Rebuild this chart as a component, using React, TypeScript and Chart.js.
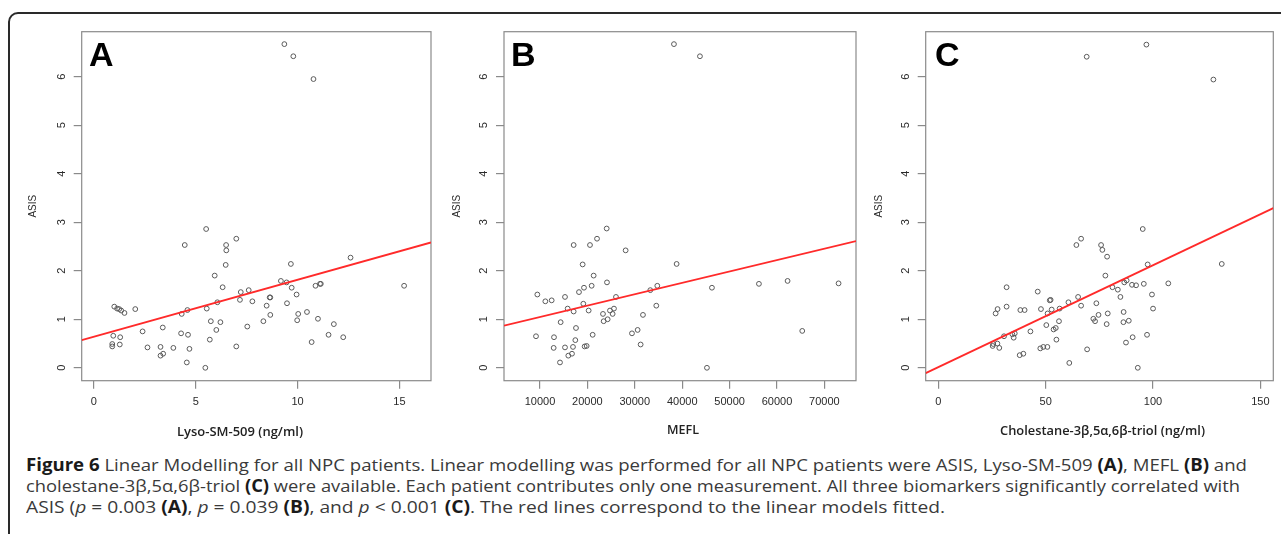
import React, { useEffect, useLayoutEffect, useRef } from 'react';
import { Chart, registerables } from 'chart.js';

Chart.register(...registerables);

// ---------- Data ----------
const Y_TICKS = [0, 1, 2, 3, 4, 5, 6];
const Y_RANGE = [-0.266, 6.926];
const Y_TITLE = 'ASIS';

// Panel A: Lyso-SM-509
const A_X = [1.0, 1.14, 1.24, 1.34, 1.5, 0.95, 0.9, 0.9, 1.29, 1.27, 2.03, 2.39, 2.63, 3.27, 3.27, 3.4, 3.38, 3.9, 4.28, 4.31, 4.59, 4.62, 4.69, 4.56, 5.47, 5.54, 5.69, 5.74, 5.93, 6.01, 6.06, 6.21, 6.32, 6.47, 4.46, 5.51, 6.49, 6.5, 6.99, 9.67, 12.6, 9.35, 9.79, 10.78, 6.99, 7.53, 7.17, 7.21, 7.6, 7.78, 8.32, 8.48, 8.63, 8.66, 8.66, 9.18, 9.46, 9.48, 9.71, 9.95, 9.98, 10.03, 10.46, 10.69, 10.88, 11.1, 11.14, 11.0, 11.52, 11.78, 12.24, 15.23];
const A_Y = [1.26, 1.22, 1.21, 1.18, 1.13, 0.66, 0.49, 0.44, 0.63, 0.48, 1.21, 0.75, 0.42, 0.43, 0.25, 0.29, 0.83, 0.41, 0.71, 1.11, 1.19, 0.68, 0.39, 0.11, 0.0, 1.22, 0.58, 0.96, 1.9, 0.78, 1.35, 0.94, 1.66, 2.12, 2.53, 2.86, 2.53, 2.42, 2.66, 2.14, 2.27, 6.67, 6.42, 5.95, 0.44, 0.85, 1.4, 1.56, 1.6, 1.37, 0.96, 1.28, 1.45, 1.45, 1.09, 1.79, 1.76, 1.33, 1.65, 1.51, 0.98, 1.11, 1.15, 0.53, 1.69, 1.73, 1.73, 1.01, 0.68, 0.9, 0.63, 1.69];
const A_FIT = [0.64, 0.1174]; // intercept, slope
const A_XTICKS = [0, 5, 10, 15];
const A_XRANGE = [-0.6, 16.55];
const A_XTITLE = 'Lyso-SM-509 (ng/ml)';

// Panel B: MEFL
const B_X = [9156, 9437, 11125, 12461, 12953, 12883, 14218, 14359, 15273, 15273, 15835, 15976, 16749, 16960, 17100, 17452, 17592, 18225, 18998, 19139, 19280, 19420, 19842, 20264, 20897, 21108, 21319, 23287, 23428, 24131, 24271, 24763, 25325, 25607, 26028, 28067, 29403, 30598, 31231, 31723, 33269, 34535, 34746, 38823, 45220, 46275, 56187, 62233, 65326, 72989, 17100, 20545, 22030, 24070, 38261, 43744];
const B_Y = [0.65, 1.51, 1.37, 1.39, 0.63, 0.41, 0.11, 0.94, 1.46, 0.42, 1.22, 0.25, 0.29, 0.43, 1.16, 0.57, 0.82, 1.56, 2.13, 1.32, 1.65, 0.44, 0.45, 1.18, 1.69, 0.68, 1.9, 1.11, 0.96, 1.76, 1.0, 1.18, 1.11, 1.22, 1.46, 2.42, 0.71, 0.78, 0.48, 1.09, 1.6, 1.28, 1.69, 2.14, 0.0, 1.65, 1.73, 1.79, 0.76, 1.74, 2.53, 2.53, 2.66, 2.87, 6.67, 6.42];
const B_FIT = [0.81, 0.00002347];
const B_XTICKS = [10000, 20000, 30000, 40000, 50000, 60000, 70000];
const B_XRANGE = [2405, 76667];
const B_XTITLE = 'MEFL';

// Panel C: Cholestane-3β,5α,6β-triol
const C_X = [25.3, 25.6, 26.7, 27.6, 27.5, 28.4, 30.6, 31.8, 31.8, 34.5, 35.1, 35.6, 37.9, 38.2, 39.6, 40.2, 42.9, 46.3, 47.5, 47.8, 48.9, 50.3, 50.8, 50.9, 51.9, 52.3, 52.8, 53.7, 54.7, 55.0, 56.2, 56.5, 60.6, 61.0, 65.1, 66.5, 69.3, 72.2, 73.0, 73.6, 74.6, 77.8, 78.4, 78.9, 78.6, 81.1, 83.6, 84.8, 86.2, 86.3, 86.6, 87.7, 87.4, 88.7, 90.2, 92.1, 90.5, 92.9, 95.7, 97.2, 97.5, 99.5, 100.0, 107.1, 132.0, 64.3, 66.5, 75.8, 76.4, 95.2, 69.1, 96.9, 128.1];
const C_Y = [0.45, 0.49, 1.12, 1.21, 0.5, 0.41, 0.65, 1.66, 1.26, 0.69, 0.62, 0.71, 0.26, 1.19, 0.29, 1.19, 0.75, 1.57, 0.4, 1.21, 0.43, 0.88, 0.43, 1.12, 1.39, 1.4, 1.2, 0.79, 0.82, 0.58, 0.96, 1.22, 1.35, 0.1, 1.46, 1.28, 0.38, 1.01, 0.96, 1.33, 1.09, 1.9, 0.9, 1.12, 2.29, 1.66, 1.61, 1.46, 0.94, 1.15, 1.76, 1.8, 0.52, 0.97, 1.71, 1.7, 0.63, 0.0, 1.73, 0.68, 2.13, 1.51, 1.22, 1.74, 2.14, 2.53, 2.66, 2.53, 2.43, 2.86, 6.41, 6.66, 5.94];
const C_FIT = [0.014, 0.021];
const C_XTICKS = [0, 50, 100, 150];
const C_XRANGE = [-5.87, 156.0];
const C_XTITLE = 'Cholestane-3β,5α,6β-triol (ng/ml)';

const PANEL_LETTERS = ['A', 'B', 'C'];

// ---------- Styling ----------
const AXIS_GRAY = '#8a8a8a';
const TICK_FONT = { family: '"Liberation Sans", Arial, sans-serif', size: 11 };
const CAPTION_FONT = '"Open Sans", "Noto Sans", sans-serif';

const boxPlugin = {
  id: 'plotBox',
  beforeDatasetsDraw(chart: any) {
    const { ctx, chartArea: a } = chart;
    ctx.save();
    ctx.strokeStyle = AXIS_GRAY;
    ctx.lineWidth = 1.2;
    ctx.strokeRect(a.left, a.top, a.right - a.left, a.bottom - a.top);
    ctx.restore();
  },
};

type Geom = { left: number; top: number; w: number; h: number; yW: number; padTop: number; padRight: number; xH: number };

function Panel({ xs, ys, fit, xTicks, xRange, geom }: { xs: number[]; ys: number[]; fit: number[]; xTicks: number[]; xRange: number[]; geom: Geom }) {
  const ref = useRef<HTMLCanvasElement>(null);
  useEffect(() => {
    const pts = xs.map((x, i) => ({ x, y: ys[i] }));
    const line = [
      { x: xRange[0], y: fit[0] + fit[1] * xRange[0] },
      { x: xRange[1], y: fit[0] + fit[1] * xRange[1] },
    ];
    const zeroPad = (s: any) => {
      s.paddingLeft = 0;
      s.paddingRight = 0;
      s.paddingTop = 0;
      s.paddingBottom = 0;
    };
    const chart = new Chart(ref.current as HTMLCanvasElement, {
      type: 'scatter',
      data: {
        datasets: [
          {
            data: line,
            showLine: true,
            borderColor: '#ff2a2a',
            backgroundColor: '#ff2a2a',
            borderWidth: 1.8,
            pointRadius: 0,
          },
          {
            data: pts,
            showLine: false,
            pointRadius: 2.4,
            pointBorderWidth: 1,
            borderColor: '#5a5a5a',
            backgroundColor: 'rgba(0,0,0,0)',
            pointBorderColor: '#5a5a5a',
            pointBackgroundColor: 'rgba(0,0,0,0)',
          },
        ],
      },
      options: {
        animation: false,
        responsive: false,
        maintainAspectRatio: false,
        events: [],
        layout: { padding: { left: 0, top: geom.padTop, right: geom.padRight, bottom: 0 } },
        plugins: { legend: { display: false }, tooltip: { enabled: false } },
        scales: {
          x: {
            type: 'linear',
            min: xRange[0],
            max: xRange[1],
            afterBuildTicks: (s: any) => {
              s.ticks = xTicks.map((v) => ({ value: v }));
            },
            afterFit: (s: any) => {
              s.height = geom.xH;
              zeroPad(s);
            },
            ticks: {
              autoSkip: false,
              maxRotation: 0,
              minRotation: 0,
              padding: 7,
              color: '#2a2a2a',
              font: TICK_FONT,
              callback: (v: any) => String(v),
            },
            grid: { drawOnChartArea: false, drawTicks: true, tickLength: 8, color: AXIS_GRAY, lineWidth: 1.2 },
            border: { display: false },
          },
          y: {
            type: 'linear',
            min: Y_RANGE[0],
            max: Y_RANGE[1],
            afterBuildTicks: (s: any) => {
              s.ticks = Y_TICKS.map((v) => ({ value: v }));
            },
            afterFit: (s: any) => {
              s.width = geom.yW;
              zeroPad(s);
            },
            ticks: {
              autoSkip: false,
              minRotation: 90,
              maxRotation: 90,
              crossAlign: 'center',
              padding: 9,
              color: '#2a2a2a',
              font: TICK_FONT,
              callback: (v: any) => String(v),
            },
            grid: { drawOnChartArea: false, drawTicks: true, tickLength: 8, color: AXIS_GRAY, lineWidth: 1.2 },
            border: { display: false },
            title: {
              display: true,
              text: Y_TITLE,
              color: '#2a2a2a',
              font: { family: '"Liberation Sans", Arial, sans-serif', size: 10 },
              padding: { top: 7, bottom: 0 },
            },
          },
        },
      } as any,
      plugins: [boxPlugin],
    });
    return () => chart.destroy();
  }, []);
  return (
    <canvas
      ref={ref}
      width={geom.w}
      height={geom.h}
      style={{ position: 'absolute', left: geom.left, top: geom.top, width: geom.w, height: geom.h }}
    />
  );
}

function FitText({ x, y, w, center, style, children }: { x: number; y: number; w: number; center?: boolean; style?: any; children: any }) {
  const ref = useRef<HTMLSpanElement>(null);
  useLayoutEffect(() => {
    const el = ref.current as HTMLSpanElement;
    const apply = () => {
      el.style.transform = 'none';
      const nat = el.getBoundingClientRect().width;
      if (nat > 0) el.style.transform = `scaleX(${w / nat})`;
    };
    apply();
    const fonts: any = (document as any).fonts;
    if (fonts && fonts.ready) fonts.ready.then(apply);
  }, [w]);
  return (
    <span
      ref={ref}
      style={{
        position: 'absolute',
        left: center ? x - w / 2 : x,
        top: y,
        whiteSpace: 'nowrap',
        display: 'inline-block',
        transformOrigin: 'left top',
        ...style,
      }}
    >
      {children}
    </span>
  );
}

const GEOMS: Geom[] = [
  { left: 20, top: 20, w: 425, h: 430, yW: 61.7, padTop: 11.7, padRight: 14, xH: 69.3 },
  { left: 444, top: 20, w: 426, h: 430, yW: 60, padTop: 11.7, padRight: 14, xH: 69.3 },
  { left: 866, top: 20, w: 415, h: 430, yW: 59.7, padTop: 11.7, padRight: 7.7, xH: 69.3 },
];

const LETTER_POS = [
  { left: 89, top: 37.2 },
  { left: 511, top: 37.2 },
  { left: 935, top: 37.2 },
];

export default function App() {
  const xTitleStyle = { fontFamily: CAPTION_FONT, fontWeight: 600, fontSize: '12.5px', lineHeight: '16px', color: '#222' };
  const capStyle = { fontFamily: CAPTION_FONT, fontSize: '17px', lineHeight: '21px', color: '#3a3a3a' };
  const B = ({ children }: any) => <b style={{ fontWeight: 700, color: '#1a1a1a' }}>{children}</b>;
  return (
    <div style={{ position: 'absolute', left: 0, top: 0, width: 1281, height: 534, overflow: 'hidden', background: '#fff' }}>
      <div
        style={{
          position: 'absolute',
          left: 8,
          top: 12,
          width: 1400,
          height: 700,
          border: '2px solid #2a2a2a',
          borderRadius: 10,
          boxSizing: 'border-box',
        }}
      />
      <Panel xs={A_X} ys={A_Y} fit={A_FIT} xTicks={A_XTICKS} xRange={A_XRANGE} geom={GEOMS[0]} />
      <Panel xs={B_X} ys={B_Y} fit={B_FIT} xTicks={B_XTICKS} xRange={B_XRANGE} geom={GEOMS[1]} />
      <Panel xs={C_X} ys={C_Y} fit={C_FIT} xTicks={C_XTICKS} xRange={C_XRANGE} geom={GEOMS[2]} />
      {PANEL_LETTERS.map((l, i) => (
        <div
          key={l}
          style={{
            position: 'absolute',
            left: LETTER_POS[i].left,
            top: LETTER_POS[i].top,
            fontFamily: '"Liberation Sans", Arial, sans-serif',
            fontWeight: 700,
            fontSize: '34px',
            lineHeight: 1,
            color: '#000',
          }}
        >
          {l}
        </div>
      ))}
      <FitText x={239.7} y={423.6} w={126} center style={xTitleStyle}>{A_XTITLE}</FitText>
      <FitText x={683} y={422.1} w={32} center style={xTitleStyle}>{B_XTITLE}</FitText>
      <FitText x={1102.5} y={422.6} w={205} center style={xTitleStyle}>{C_XTITLE}</FitText>

      <FitText x={26} y={454} w={1221} style={capStyle}>
        <B>Figure 6</B> Linear Modelling for all NPC patients. Linear modelling was performed for all NPC patients were ASIS, Lyso-SM-509 <B>(A)</B>, MEFL <B>(B)</B> and
      </FitText>
      <FitText x={26} y={475} w={1214} style={capStyle}>
        cholestane-3β,5α,6β-triol <B>(C)</B> were available. Each patient contributes only one measurement. All three biomarkers significantly correlated with
      </FitText>
      <FitText x={26} y={496} w={919} style={capStyle}>
        ASIS (<i>p</i> = 0.003 <B>(A)</B>, <i>p</i> = 0.039 <B>(B)</B>, and <i>p</i> &lt; 0.001 <B>(C)</B>. The red lines correspond to the linear models fitted.
      </FitText>
    </div>
  );
}
